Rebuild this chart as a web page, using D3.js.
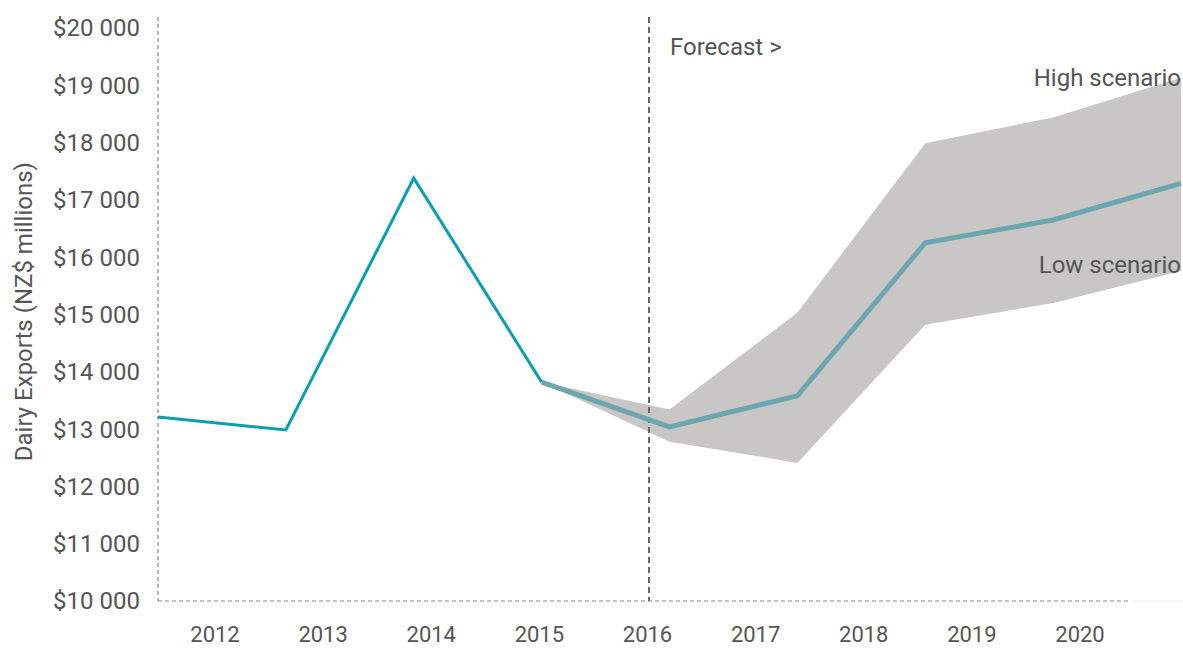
<!DOCTYPE html>
<html>
<head>
<meta charset="utf-8">
<script src="https://cdn.jsdelivr.net/npm/d3@7"></script>
<style>
    body { margin: 0; background: #fff; }
    text { font-family: Roboto, "Open Sans", sans-serif; fill: #555; }
</style>
</head>
<body>
<div id="chart"></div>
<script>
// Data
const years = ["2012", "2013", "2014", "2015", "2016", "2017", "2018", "2019", "2020"];
const history = [13210, 12985, 17380, 13820];              // 2012-2015
const forecastYears = ["2015", "2016", "2017", "2018", "2019", "2020"];
const forecast = [13820, 13040, 13580, 16250, 16650, 17290];
const highScenario = [13820, 13340, 15030, 17990, 18440, 19130];
const lowScenario = [13820, 12780, 12410, 14820, 15200, 15760];
const yTicks = [10000, 11000, 12000, 13000, 14000, 15000, 16000, 17000, 18000, 19000, 20000];

const width = 1183, height = 648;

const svg = d3.select("#chart")
    .append("svg")
    .attr("width", width)
    .attr("height", height);

// Scales: points and labels sit on different spacings in the original
const x = d3.scalePoint().domain(years).range([158, 1181]);
const xLabel = d3.scalePoint().domain(years).range([215, 1080]);
const y = d3.scaleLinear().domain([10000, 20000]).range([601, 28]);

const fmt = v => "$" + d3.format(",")(v).replace(/,/g, " ");

// Faint frame on the right bottom corner
svg.append("line")
    .attr("x1", 1131).attr("x2", 1183)
    .attr("y1", y(10000)).attr("y2", y(10000))
    .style("stroke", "#eee").style("stroke-width", 1);

// Y axis labels
svg.selectAll(".ytick")
    .data(yTicks)
    .enter().append("text")
    .attr("x", 140)
    .attr("y", d => y(d))
    .attr("dy", "0.35em")
    .attr("text-anchor", "end")
    .style("font-size", "24px")
    .text(fmt);

// Y axis title
svg.append("text")
    .attr("transform", "translate(32," + y(15050) + ") rotate(-90)")
    .attr("text-anchor", "middle")
    .style("font-size", "24px")
    .text("Dairy Exports (NZ$ millions)");

// X labels
svg.selectAll(".xtick")
    .data(years)
    .enter().append("text")
    .attr("x", d => xLabel(d))
    .attr("y", 642)
    .attr("text-anchor", "middle")
    .style("font-size", "22px")
    .text(d => d);

// Dashed axes
svg.append("line")
    .attr("x1", 158).attr("x2", 158)
    .attr("y1", 17).attr("y2", y(10000))
    .style("stroke", "#888").style("stroke-width", 1.2)
    .style("stroke-dasharray", "4,3");

svg.append("line")
    .attr("x1", 158).attr("x2", 1131)
    .attr("y1", y(10000)).attr("y2", y(10000))
    .style("stroke", "#888").style("stroke-width", 1.2)
    .style("stroke-dasharray", "4,3");

// Scenario band
const area = d3.area()
    .x((d, i) => x(forecastYears[i]))
    .y0((d, i) => y(lowScenario[i]))
    .y1(d => y(d));

svg.append("path")
    .datum(highScenario)
    .attr("d", area)
    .style("fill", "#c8c7c6");

// Forecast divider
svg.append("line")
    .attr("x1", 649).attr("x2", 649)
    .attr("y1", 17).attr("y2", y(10000))
    .style("stroke", "#666").style("stroke-width", 2)
    .style("stroke-dasharray", "6,4");

// Historical line
const line = d3.line()
    .x(d => x(d.year))
    .y(d => y(d.value));

svg.append("path")
    .datum(history.map((v, i) => ({ year: years[i], value: v })))
    .attr("d", line)
    .style("fill", "none")
    .style("stroke", "#0b9eb0")
    .style("stroke-width", 3);

// Forecast line
svg.append("path")
    .datum(forecast.map((v, i) => ({ year: forecastYears[i], value: v })))
    .attr("d", line)
    .style("fill", "none")
    .style("stroke", "#6ca6ae")
    .style("stroke-width", 5);

// Annotations
svg.append("text")
    .attr("x", 670).attr("y", 55)
    .style("font-size", "24px")
    .text("Forecast >");

svg.append("text")
    .attr("x", 1181).attr("y", 86)
    .attr("text-anchor", "end")
    .style("font-size", "24px")
    .text("High scenario");

svg.append("text")
    .attr("x", 1181).attr("y", 273)
    .attr("text-anchor", "end")
    .style("font-size", "24px")
    .text("Low scenario");
</script>
</body>
</html>
